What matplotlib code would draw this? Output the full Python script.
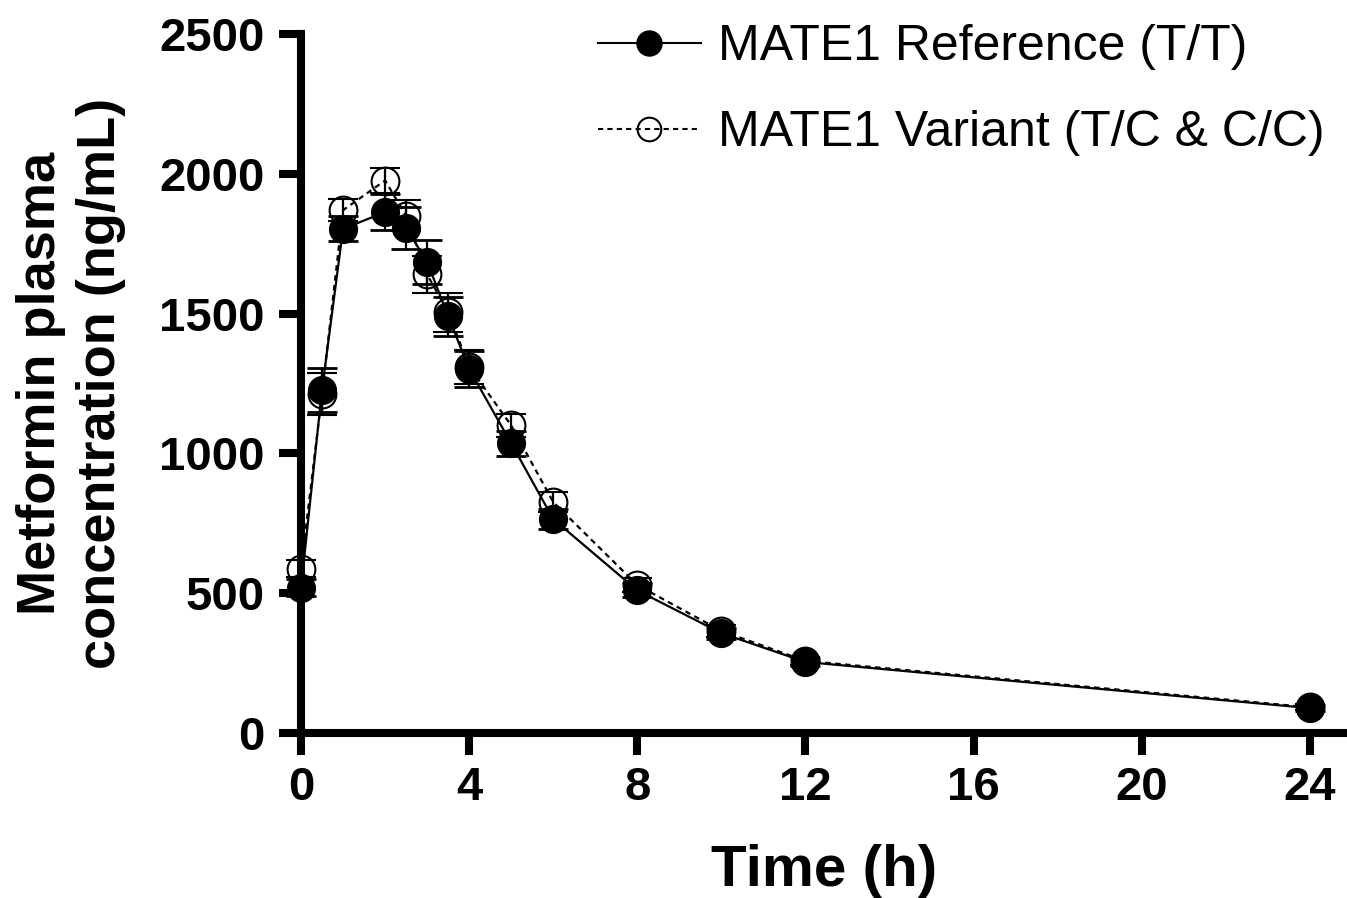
import matplotlib
matplotlib.use("Agg")
import matplotlib.pyplot as plt
from matplotlib.lines import Line2D

# data (mean +/- error)
time_h = [0, 0.5, 1, 2, 2.5, 3, 3.5, 4, 5, 6, 8, 10, 12, 24]
ref_mean = [520, 1227, 1803, 1863, 1806, 1685, 1491, 1302, 1036, 765, 510, 357, 254, 89]
ref_err = [30, 80, 45, 65, 75, 80, 70, 64, 45, 35, 25, 20, 15, 10]
var_mean = [588, 1212, 1870, 1976, 1850, 1640, 1505, 1310, 1100, 826, 529, 365, 258, 92]
var_err = [30, 75, 40, 45, 55, 65, 70, 60, 40, 35, 25, 20, 15, 10]

ref_label = "MATE1 Reference (T/T)"
var_label = "MATE1 Variant (T/C & C/C)"
x_ticks = [0, 4, 8, 12, 16, 20, 24]
y_ticks = [0, 500, 1000, 1500, 2000, 2500]

plt.rcParams['font.family'] = ['Liberation Sans', 'DejaVu Sans']

W, H = 1347, 898
fig = plt.figure(figsize=(W / 100, H / 100), dpi=100)
ax = fig.add_axes([301 / W, 165 / H, 1046 / W, 699 / H])

dash = (0, (2.5, 2))
# variant drawn first so the filled markers sit on top
ax.errorbar(time_h, var_mean, yerr=var_err, color='black', lw=1.6,
            ls=dash, marker='o', ms=20, mfc='none', mec='black',
            mew=1.5, ecolor='black', elinewidth=1.6, capsize=11, capthick=2,
            clip_on=False, zorder=3)
ax.errorbar(time_h, ref_mean, yerr=ref_err, color='black', lw=1.6,
            ls='-', marker='o', ms=20, mfc='black', mec='black',
            ecolor='black', elinewidth=1.6, capsize=11, capthick=2,
            clip_on=False, zorder=4)

ax.set_xlim(0, 1046 / 42.04)
ax.set_ylim(0, 2500)
ax.set_xticks(x_ticks)
ax.set_yticks(y_ticks)

for s in ['top', 'right']:
    ax.spines[s].set_visible(False)
for s in ['left', 'bottom']:
    ax.spines[s].set_linewidth(5.8)
    ax.spines[s].set_zorder(2)

ax.tick_params(axis='both', direction='out', length=16, width=5.8,
               labelsize=34)
ax.tick_params(axis='y', pad=10)
ax.tick_params(axis='x', pad=8)
for lab in ax.get_xticklabels() + ax.get_yticklabels():
    lab.set_fontweight('bold')

ax.set_xlabel("Time (h)", fontsize=42, fontweight='bold', labelpad=24)
ax.set_ylabel("Metformin plasma\nconcentration (ng/mL)", fontsize=39,
              fontweight='bold', labelpad=24, linespacing=1.25)

handles = [
    Line2D([], [], color='black', lw=1.5, ls='-', marker='o', ms=18,
           mfc='black', mec='black'),
    Line2D([], [], color='black', lw=1.5, ls=dash, marker='o', ms=17,
           mfc='none', mec='black', mew=1.5),
]
ax.legend(handles, [ref_label, var_label], loc='upper left',
          bbox_to_anchor=(578 / W, 1 - 4 / H), bbox_transform=fig.transFigure,
          frameon=False, fontsize=36, handlelength=2.05, handletextpad=0.35,
          labelspacing=0.8, borderaxespad=0)

fig.savefig("out.png", dpi=100)
